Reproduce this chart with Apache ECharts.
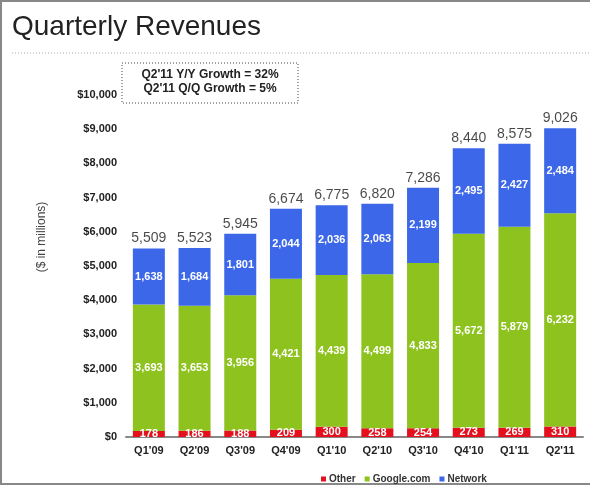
<!DOCTYPE html>
<html>
<head>
<meta charset="UTF-8">
<title>Quarterly Revenues</title>
<style>
    html, body { margin: 0; padding: 0; background: #fff; }
</style>
</head>
<body>
<div id="chart" style="width: 590px;height: 485px;"></div>
<script src="https://cdn.jsdelivr.net/npm/echarts@6/dist/echarts.min.js"></script>
<script>
    var quarters = ["Q1'09", "Q2'09", "Q3'09", "Q4'09", "Q1'10", "Q2'10", "Q3'10", "Q4'10", "Q1'11", "Q2'11"];
    var other = [178, 186, 188, 209, 300, 258, 254, 273, 269, 310];
    var googleCom = [3693, 3653, 3956, 4421, 4439, 4499, 4833, 5672, 5879, 6232];
    var network = [1638, 1684, 1801, 2044, 2036, 2063, 2199, 2495, 2427, 2484];
    var totals = [5509, 5523, 5945, 6674, 6775, 6820, 7286, 8440, 8575, 9026];
    var yTicks = [0, 1000, 2000, 3000, 4000, 5000, 6000, 7000, 8000, 9000, 10000];

    var font = 'Liberation Sans, Arial, sans-serif';
    var chart = echarts.init(document.getElementById('chart'));

    function fmt(v) {
        return v.toLocaleString('en-US');
    }

    var inLabel = {
        show: true,
        position: 'inside',
        color: '#fff',
        fontFamily: font,
        fontWeight: 'bold',
        fontSize: 11,
        formatter: function (p) { return fmt(p.value); }
    };

    var option = {
        backgroundColor: '#fff',
        animation: false,
        grid: { left: 126, right: 7, top: 95, bottom: 48 },
        legend: {
            data: ['Other', 'Google.com', 'Network'],
            left: 316,
            top: 469,
            itemWidth: 5,
            itemHeight: 5,
            itemGap: 9,
            icon: 'rect',
            textStyle: { fontFamily: font, fontWeight: 'bold', fontSize: 10, color: '#333', padding: [0, 0, 0, -2] }
        },
        xAxis: {
            type: 'category',
            data: quarters,
            axisTick: { show: false },
            axisLine: { lineStyle: { color: '#888', width: 2 } },
            axisLabel: { fontFamily: font, fontWeight: 'bold', fontSize: 11, color: '#222', margin: 8 }
        },
        yAxis: {
            type: 'value',
            min: yTicks[0],
            max: yTicks[yTicks.length - 1],
            interval: 1000,
            splitLine: { show: false },
            axisLine: { show: false },
            axisTick: { show: false },
            axisLabel: {
                fontFamily: font, fontWeight: 'bold', fontSize: 11, color: '#222', margin: 9,
                formatter: function (v) { return '$' + fmt(v); }
            }
        },
        series: [{
            name: 'Other',
            type: 'bar',
            stack: 'rev',
            barWidth: 32,
            data: other,
            itemStyle: { color: '#e5101d' },
            label: inLabel
        }, {
            name: 'Google.com',
            type: 'bar',
            stack: 'rev',
            data: googleCom,
            itemStyle: { color: '#8dc21f' },
            label: inLabel
        }, {
            name: 'Network',
            type: 'bar',
            stack: 'rev',
            data: network,
            itemStyle: { color: '#3c67e8' },
            label: inLabel
        }, {
            name: 'Total',
            type: 'scatter',
            data: totals,
            symbolSize: 0,
            silent: true,
            label: {
                show: true,
                position: 'top',
                distance: 3,
                color: '#1a1a1a',
                fontFamily: font,
                fontSize: 14,
                formatter: function (p) { return fmt(p.value); }
            }
        }],
        graphic: [
            // frame
            { type: 'line', shape: { x1: 1, y1: 0, x2: 1, y2: 485 }, style: { stroke: '#888', lineWidth: 2 } },
            { type: 'line', shape: { x1: 0, y1: 1, x2: 590, y2: 1 }, style: { stroke: '#888', lineWidth: 2 } },
            { type: 'line', shape: { x1: 0, y1: 484, x2: 590, y2: 484 }, style: { stroke: '#888', lineWidth: 2 } },
            // title
            {
                type: 'text', left: 12, top: 13,
                style: { text: 'Quarterly Revenues', fontFamily: font, fontSize: 28, fill: '#222' }
            },
            { type: 'line', shape: { x1: 12, y1: 53, x2: 590, y2: 53 }, style: { stroke: '#aaa', lineWidth: 1, lineDash: [1, 2] } },
            // growth box
            {
                type: 'rect', shape: { x: 122, y: 63, width: 176, height: 40 },
                style: { fill: 'none', stroke: '#444', lineWidth: 1, lineDash: [1, 2] }
            },
            {
                type: 'text', x: 210, y: 75,
                style: { text: "Q2'11 Y/Y Growth = 32%", fontFamily: font, fontWeight: 'bold', fontSize: 12, fill: '#222', align: 'center', verticalAlign: 'middle' }
            },
            {
                type: 'text', x: 210, y: 89,
                style: { text: "Q2'11 Q/Q Growth = 5%", fontFamily: font, fontWeight: 'bold', fontSize: 12, fill: '#222', align: 'center', verticalAlign: 'middle' }
            },
            // axis name
            {
                type: 'text', x: 42, y: 237, rotation: Math.PI / 2,
                style: { text: '($ in millions)', fontFamily: font, fontSize: 12, fill: '#444', align: 'center', verticalAlign: 'middle' }
            }
        ]
    };
    chart.setOption(option);
</script>
</body>
</html>
